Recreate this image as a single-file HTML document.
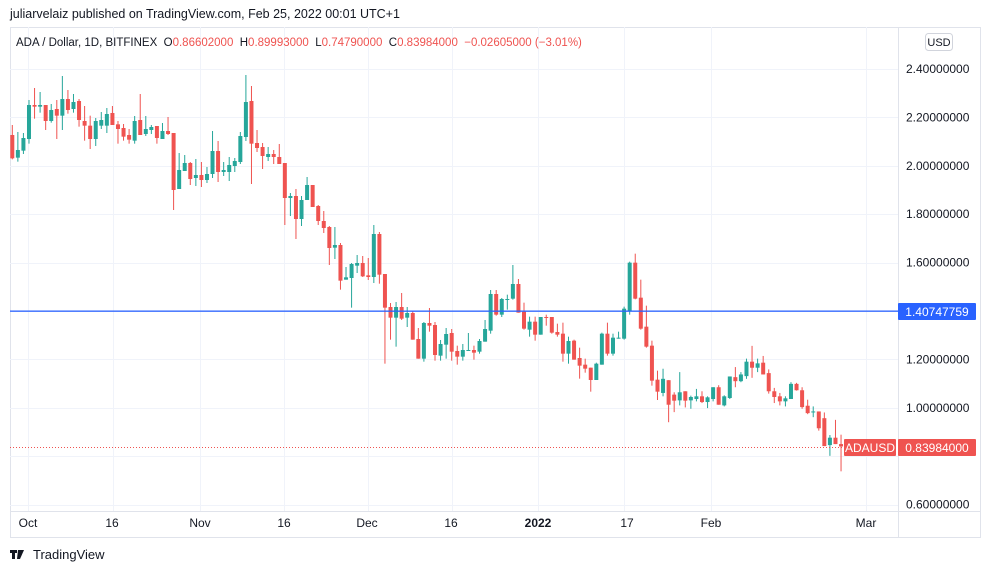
<!DOCTYPE html>
<html><head><meta charset="utf-8"><style>
body{margin:0;background:#fff;width:990px;height:573px;overflow:hidden;font-family:"Liberation Sans",sans-serif}
text{white-space:pre}
</style></head><body>
<svg id="s" width="990" height="573" xmlns="http://www.w3.org/2000/svg" font-family="Liberation Sans, sans-serif" xml:space="preserve">
<text x="10" y="18" font-size="12.5" fill="#131722">juliarvelaiz published on TradingView.com, Feb 25, 2022 00:01 UTC+1</text>
<rect x="10.5" y="27.5" width="970" height="510" fill="#fff" stroke="#e0e3eb"/>
<g id="grid" stroke="#f0f3fa" stroke-width="1"></g>
<line x1="898.5" y1="27" x2="898.5" y2="537" stroke="#e0e3eb"/>
<line x1="10" y1="511.5" x2="980" y2="511.5" stroke="#e0e3eb"/>
<g id="c"></g>
<rect x="10" y="310.5" width="888" height="1.3" fill="#2962ff"/>
<line x1="10" y1="447.5" x2="898" y2="447.5" stroke="#ef5350" stroke-dasharray="1,2"/>
<text x="16" y="46" font-size="11.5" fill="#131722">ADA / Dollar, 1D, BITFINEX  O<tspan fill="#ef5350">0.86602000</tspan>  H<tspan fill="#ef5350">0.89993000</tspan>  L<tspan fill="#ef5350">0.74790000</tspan>  C<tspan fill="#ef5350">0.83984000</tspan>  <tspan fill="#ef5350">−0.02605000 (−3.01%)</tspan></text>
<rect x="925.5" y="33.5" width="27" height="17" rx="3" fill="#fff" stroke="#d1d4dc"/>
<text x="939" y="46" font-size="11" text-anchor="middle" fill="#131722">USD</text>
<g id="pl" font-size="12" fill="#131722"></g>
<rect x="898" y="303" width="78" height="17" fill="#2962ff" rx="1"/>
<text x="937" y="316" font-size="12" fill="#fff" text-anchor="middle">1.40747759</text>
<rect x="844" y="439" width="52" height="17" fill="#ef5350" rx="1"/>
<text x="870" y="452" font-size="12" fill="#fff" text-anchor="middle">ADAUSD</text>
<rect x="898" y="439" width="78" height="17" fill="#ef5350" rx="1"/>
<text x="937" y="452" font-size="12" fill="#fff" text-anchor="middle">0.83984000</text>
<g font-size="12" fill="#131722" text-anchor="middle">
<text x="28" y="527">Oct</text><text x="112" y="527">16</text><text x="200" y="527">Nov</text><text x="284" y="527">16</text><text x="367" y="527">Dec</text><text x="451" y="527">16</text><text x="538" y="527" font-weight="bold">2022</text><text x="627" y="527">17</text><text x="711" y="527">Feb</text><text x="866" y="527">Mar</text>
</g>
<g fill="#131722"><rect x="10" y="550" width="7" height="3"/><rect x="12" y="550" width="3" height="9"/><path d="M18 550h6l-4 9h-3z"/></g>
<text x="33" y="559" font-size="13" fill="#131722">TradingView</text>
</svg>
<script>
var ns="http://www.w3.org/2000/svg";
function el(p,t,a){var e=document.createElementNS(ns,t);for(var k in a)e.setAttribute(k,a[k]);p.appendChild(e);return e;}
var g=document.getElementById("grid"),pl=document.getElementById("pl");
for(var i=0;i<10;i++){var y=69+i*48.4;el(g,"line",{x1:10,x2:898,y1:Math.round(y)+.5,y2:Math.round(y)+.5});
if(i!=8){var t=el(pl,"text",{x:906,y:y+4});t.textContent=(2.4-i*0.2).toFixed(8);}}
[28,113,200,284,368,452,538,624,711,866].forEach(function(x){el(g,"line",{x1:x+.5,x2:x+.5,y1:27,y2:511});});
var z1=[[225,295,195,298,0],[270,293,216,305,1],[234,272,219,282,1],[135,237,120,251,1],[135,140,84,176,0],[135,140,96,158,1],[135,183,135,210,0],[150,183,132,188,1],[147,167,120,237,0],[117,167,48,210,1],[117,150,90,161,0],[126,147,102,158,1],[123,180,117,200,0],[183,197,138,242,0],[197,237,167,267,0],[183,237,174,258,1],[180,197,156,207,1],[162,197,144,219,1],[159,195,138,195,0],[193,207,183,251,0],[204,230,192,242,0],[225,239,207,251,0],[183,242,168,251,1],[180,225,102,225,0],[207,222,168,228,1],[201,210,195,222,1],[198,234,198,251,0],[213,237,189,237,1],[213,222,171,225,0],[219,390,219,450,0],[330,387,279,387,1],[309,333,285,333,1],[309,357,306,375,0],[345,354,297,378,1],[345,360,306,381,0],[342,360,321,369,1],[273,342,213,354,1],[273,336,243,366,0],[330,336,306,348,1],[315,336,291,363,1],[303,318,294,336,1],[228,306,216,312,1],[126,231,45,243,1],[123,251,78,372,0],[249,264,210,276,0],[261,288,249,327,0],[282,291,261,303,1],[282,291,270,312,0],[291,312,252,312,0],[309,414,309,495,0],[408,414,399,468,1],[408,477,387,537,0],[420,477,408,498,1],[375,420,351,420,1],[375,441,375,441,0],[438,483,435,495,0],[483,504,453,519,0],[501,564,498,615,0]];
var z2=[[135,143,81,177,1],[135,242,129,269,0],[232,239,201,239,1],[192,234,189,323,1],[189,197,165,219,1],[189,229,168,231,0],[226,231,174,240,0],[102,231,75,249,1],[102,224,96,251,0],[222,323,222,491,0],[321,353,309,419,0],[321,353,306,440,1],[321,356,279,360,0],[339,353,321,381,1],[339,419,333,419,0],[417,476,384,476,0],[369,476,366,485,1],[369,377,324,395,0],[375,465,366,482,0],[432,467,420,482,1],[402,434,384,476,1],[399,455,387,482,0],[453,470,437,494,0],[450,470,432,482,1],[450,452,399,452,1],[450,458,437,479,0],[423,455,417,461,1],[387,425,360,425,1],[282,392,270,401,1],[282,344,270,347,0],[297,344,294,351,1],[297,299,284,329,1],[252,296,195,299,1],[252,338,237,338,0],[335,386,308,389,0],[365,389,350,410,1],[365,404,350,422,0],[351,404,351,404,1],[351,353,344,377,0],[351,398,351,401,0],[396,404,371,410,0],[401,461,368,485,0],[423,461,410,491,1],[422,479,419,479,0],[474,497,443,536,0],[494,506,476,518,0],[503,540,503,575,0],[491,540,488,540,1],[401,494,398,494,1],[401,461,368,467,0],[413,461,401,467,1],[413,416,395,416,1],[326,416,320,419,1],[188,332,185,344,1],[188,296,161,298,0],[293,386,239,389,0],[380,440,317,443,0],[437,542,422,557,0],[539,575,512,600,0]];
var z3=[[383,425,353,435,1],[387,460,387,512,0],[430,448,423,482,0],[423,447,363,462,1],[420,448,420,468,0],[437,447,433,472,1],[435,443,413,450,1],[435,452,420,455,0],[438,452,435,470,1],[408,443,408,450,1],[408,460,402,460,0],[435,462,432,465,1],[376,440,376,443,1],[378,390,348,408,0],[370,390,363,393,1],[332,375,323,383,1],[332,350,285,380,0],[337,350,323,363,1],[335,370,315,370,0],[366,420,355,427,0],[420,437,410,455,0],[435,450,425,462,0],[441,450,435,465,1],[398,443,393,443,1],[398,417,395,418,0],[417,467,408,472,0],[463,485,445,488,0],[480,482,465,497,1],[480,530,480,537,0],[500,583,483,583,0],[558,580,550,612,1],[558,577,505,577,0],[577,584,549,658,0]];
var all=[];
z1.forEach(function(c){all.push([60+c[0]/3,60+c[1]/3,60+c[2]/3,60+c[3]/3,c[4]]);});
z2.forEach(function(c){all.push([200+c[0]/3,200+c[1]/3,200+c[2]/3,200+c[3]/3,c[4]]);});
z3.forEach(function(c){var k=2.973;all.push([250+c[0]/k,250+c[1]/k,250+c[2]/k,250+c[3]/k,c[4]]);});
var cg=document.getElementById("c");
all.forEach(function(c,i){var x=12.3+i*5.562;var col=c[4]?"#26a69a":"#ef5350";
el(cg,"rect",{x:(x-0.5).toFixed(2),y:c[2],width:1,height:Math.max(1,c[3]-c[2]),fill:col});
el(cg,"rect",{x:(x-2).toFixed(2),y:c[0],width:4,height:Math.max(1,c[1]-c[0]),fill:col});});
</script>
</body></html>
